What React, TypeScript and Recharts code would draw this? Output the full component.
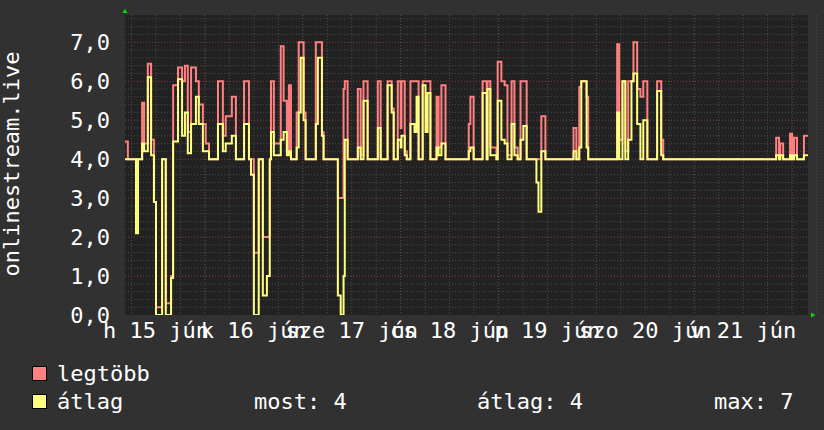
import React from 'react';
import { LineChart, Line, XAxis, YAxis, CartesianGrid } from 'recharts';

// hours since 15 Jun 00:00 where a value changes (step data)
const times = [4.4,5.1,7.1,7.6,8.6,9.1,10.0,10.8,11.5,12.0,13.5,14.4,15.7,16.2,17.4,18.4,19.1,19.8,20.6,21.8,
  22.5,23.5,24.2,25.0,27.2,28.4,29.1,30.6,31.6,33.6,34.8,35.3,36.0,37.2,38.2,39.2,39.9,40.2,40.9,42.6,
  43.3,44.1,44.6,45.1,46.5,47.0,47.5,48.2,48.7,51.2,51.7,52.7,53.1,56.6,57.3,58.0,58.3,59.0,61.5,62.2,
  62.9,63.9,66.4,67.1,68.8,69.8,70.3,71.3,72.0,72.2,73.0,73.5,74.4,75.4,75.9,76.4,77.4,78.1,78.6,79.3,
  80.8,81.3,82.0,83.0,88.7,89.1,89.9,92.1,93.1,93.3,94.0,95.5,95.8,96.7,97.5,98.2,99.2,99.9,100.7,101.4,
  102.1,102.9,105.3,105.8,106.5,107.5,114.4,115.1,115.8,116.3,117.6,118.0,125.1,125.6,126.4,127.1,127.8,128.6,129.1,130.0,
  130.8,131.5,132.5,134.9,135.9,136.4,164.1,164.8,165.1,165.8,167.5,168.0,168.5,169.2,170.9,171.9];

const maxValues = [4.45,4,4,4,5.45,4.4,6.45,4.5,2.9,0.2,4,0.3,1.0,5.9,6.35,6.0,6.4,4.7,6.35,6.0,
  5.4,4.9,4.4,4,6.0,4.6,5.1,5.6,4,6.0,4,4,1.6,4,2.0,2.0,4,6.0,4.4,6.9,
  5.5,4.2,5.9,4,5.2,7.0,7.0,5.2,4,7.0,7.0,4.7,4,3.0,3.0,5.8,6.0,4,5.8,4.1,
  6.0,4,6.0,4,6.0,5.3,4,6.0,4.8,6.0,4.2,4,6.0,6.0,6.0,4,6.0,6.0,6.0,4,
  5.6,4.3,5.9,4,4.9,5.6,4,6.0,4,6.0,4.3,4,6.5,6.0,5.9,4.1,6.0,4.3,4,6.0,
  6.0,4,4,4,5.1,4,4.8,4,5.85,6.0,5.6,4,6.95,4.5,6.0,4.2,6.0,6.0,7.0,5.8,
  5.6,6.0,4,6.0,4.5,4,4.55,4,4.4,4,4.65,4,4.55,4,4.6,4.6];

const avgValues = [4.0,4,2.1,4,4.4,4.2,6.1,4.1,2.9,0,4,0,0.95,4.45,6.05,4.6,5.2,4.15,4.9,5.6,
  4.9,4.2,4.2,4,4.9,4.2,4.4,4.6,4,4.9,4,3.6,0,4,0.5,1.0,4,4.7,4.1,4.5,
  4.7,4.1,4.2,4,4.3,5.2,6.6,5.0,4,4.9,6.6,4.6,4,0.5,0,1.0,4.5,4,4.3,4.0,
  5.5,4,4.8,4,5.9,5.2,4,4.5,4.3,4.6,4.1,4,4.9,4.7,5.6,4,5.9,4.7,5.7,4,
  4.3,4.1,4.4,4,4.2,4.3,4,5.7,4,5.8,4.1,4,5.5,4.5,4.4,4.0,4.9,4.1,4,4.5,
  4.85,4,3.4,2.65,4.2,4,4.2,4,4.3,6.0,4.3,4,5.2,4.0,6.0,4.0,4.5,6.0,6.2,4.9,
  4.0,5.0,4,5.75,4.1,4,4.1,4,4.1,4,4.1,4,4.1,4,4.1,4.1];

const dayTicks = [12, 36, 60, 84, 108, 132, 156];
const dayLabels = ['h 15 jún', 'k 16 jún', 'sze 17 jún', 'cs 18 jún', 'p 19 jún', 'szo 20 jún', 'v 21 jún'];
const yTicks = [0, 1, 2, 3, 4, 5, 6, 7];
const yTickLabels = ['0,0', '1,0', '2,0', '3,0', '4,0', '5,0', '6,0', '7,0'];
const seriesNames = ['legtöbb', 'átlag'];
const statLabels = ['most: 4', 'átlag: 4', 'max: 7'];
const axisTitle = 'onlinestream.live';

const data = times.map((t, i) => ({ t, max: maxValues[i], avg: avgValues[i] }));

const minorY = Array.from({ length: 38 }, (_, i) => +((i + 1) * 0.2).toFixed(1)).filter(
  (v) => Math.abs(v - Math.round(v)) > 1e-6
);
const majorY = [1, 2, 3, 4, 5, 6, 7];
const minorX = Array.from({ length: 29 }, (_, i) => (i + 1) * 6).filter((v) => v % 24 !== 0);
const majorX = [24, 48, 72, 96, 120, 144, 168];

const FONT = 'DejaVu Sans Mono';
const PINK = '#ff8080';
const YELLOW = '#ffff80';

const XTick = (props: any) => {
  const { x, y, payload } = props;
  const i = dayTicks.indexOf(payload.value);
  return (
    <text x={x} y={y + 15} textAnchor="middle" fill="#ffffff" fontFamily={FONT} fontSize={22}>
      {dayLabels[i]}
    </text>
  );
};

const YTick = (props: any) => {
  const { x, y, payload } = props;
  const i = yTicks.indexOf(payload.value);
  return (
    <text x={x - 7} y={y + 8} textAnchor="end" fill="#ffffff" fontFamily={FONT} fontSize={22}>
      {yTickLabels[i]}
    </text>
  );
};

export default function App() {
  return (
    <div style={{ position: 'absolute', left: 0, top: 0, width: 824, height: 430, background: '#313131' }}>
      <LineChart width={824} height={430} data={data} margin={{ top: 15, right: 16, bottom: 85, left: 0 }}>
        <CartesianGrid
          fill="#222222"
          stroke="#4c4c4c"
          strokeDasharray="1 2"
          horizontalValues={minorY}
          verticalValues={minorX}
        />
        <CartesianGrid
          fill="none"
          stroke="#7a4444"
          strokeDasharray="1 2"
          horizontalValues={majorY}
          verticalValues={majorX}
        />
        <XAxis
          dataKey="t"
          type="number"
          domain={[4.4, 171.9]}
          allowDataOverflow
          ticks={dayTicks}
          interval={0}
          tick={<XTick />}
          axisLine={false}
          tickLine={false}
          height={30}
        />
        <YAxis
          type="number"
          domain={[0, 7.7]}
          allowDataOverflow
          ticks={yTicks}
          interval={0}
          tick={<YTick />}
          axisLine={false}
          tickLine={false}
          width={125}
        />
        <Line type="stepAfter" dataKey="max" stroke={PINK} strokeWidth={2} dot={false} isAnimationActive={false} />
        <Line type="stepAfter" dataKey="avg" stroke={YELLOW} strokeWidth={2} dot={false} isAnimationActive={false} />
      </LineChart>
      <svg
        width={824}
        height={430}
        style={{ position: 'absolute', left: 0, top: 0, pointerEvents: 'none' }}
      >
        <text
          x={19}
          y={164}
          transform="rotate(-90 19 164)"
          textAnchor="middle"
          fill="#ffffff"
          fontFamily={FONT}
          fontSize={22}
        >
          {axisTitle}
        </text>
        <polygon points="122.5,13 127.5,13 125,8.5" fill="#00dd00" />
        <polygon points="811,312.5 811,317.5 815.5,315" fill="#00dd00" />
        <rect x={32.5} y={366.5} width={14} height={14} fill={PINK} stroke="#000000" strokeWidth={1} />
        <rect x={32.5} y={394.5} width={14} height={14} fill={YELLOW} stroke="#000000" strokeWidth={1} />
        <text x={57} y={381} fill="#ffffff" fontFamily={FONT} fontSize={22}>{seriesNames[0]}</text>
        <text x={57} y={409} fill="#ffffff" fontFamily={FONT} fontSize={22}>{seriesNames[1]}</text>
        <text x={254} y={409} fill="#ffffff" fontFamily={FONT} fontSize={22}>{statLabels[0]}</text>
        <text x={477} y={409} fill="#ffffff" fontFamily={FONT} fontSize={22}>{statLabels[1]}</text>
        <text x={714} y={409} fill="#ffffff" fontFamily={FONT} fontSize={22}>{statLabels[2]}</text>
      </svg>
    </div>
  );
}
